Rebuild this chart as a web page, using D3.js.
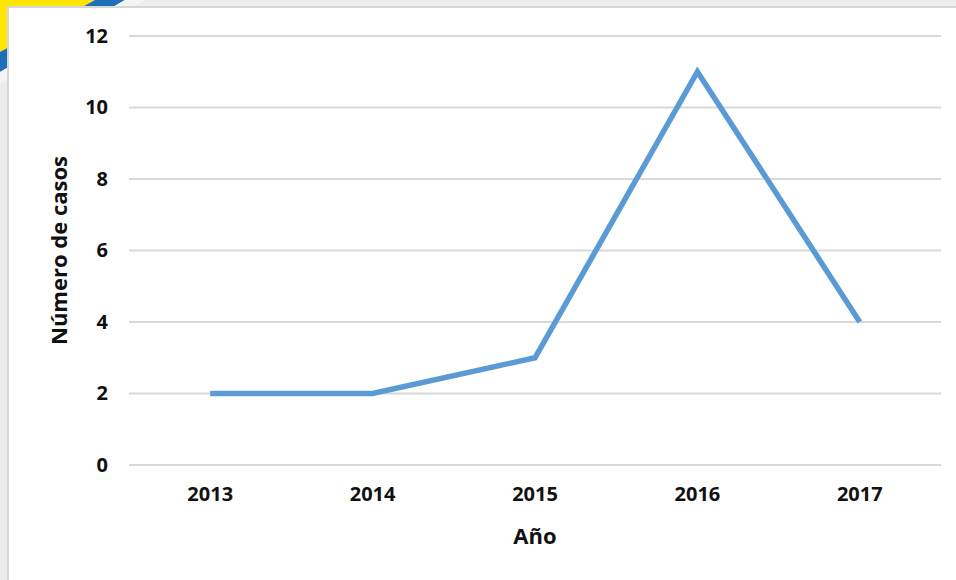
<!DOCTYPE html>
<html><head><meta charset="utf-8">
<script src="https://cdn.jsdelivr.net/npm/d3@7"></script>
<style>html,body{margin:0;padding:0;background:#f2f2f2;}svg{display:block;}</style>
</head><body>
<script>
const years = ["2013","2014","2015","2016","2017"];
const cases = [2, 2, 3, 11, 4];
const yTicks = [0, 2, 4, 6, 8, 10, 12];
const yTitle = "Número de casos";
const xTitle = "Año";

const W = 956, H = 580;
const svg = d3.select("body").append("svg").attr("width", W).attr("height", H);
const font = "'Open Sans', Lato, sans-serif";

// background decoration
svg.append("rect").attr("width", W).attr("height", H).attr("fill", "#ededed");
svg.append("path").attr("d", "M0,0 L95,0 L0,52 Z").attr("fill", "#ffe600");
svg.append("path").attr("d", "M95,0 L125,0 L0,72 L0,52 Z").attr("fill", "#1f6fb8");
svg.append("path").attr("d", "M125,0 L145,0 L0,84 L0,72 Z").attr("fill", "#f4f4f4");
// panel
svg.append("rect").attr("x", 8).attr("y", 7).attr("width", W).attr("height", H)
  .attr("fill", "#ffffff").attr("stroke", "#d6d6d6").attr("stroke-width", 2);

const m = {l: 129, r: 941, t: 36, b: 465};
const x = d3.scaleBand().domain(years).range([m.l, m.r]);
const y = d3.scaleLinear().domain([0, 12]).range([m.b, m.t]);

// gridlines
svg.append("g").selectAll("line").data(yTicks).join("line")
  .attr("x1", m.l).attr("x2", m.r)
  .attr("y1", d => y(d)).attr("y2", d => y(d))
  .attr("stroke", "#d9d9d9").attr("stroke-width", 2);

// y axis labels
const ya = svg.append("g").attr("transform", `translate(${m.l},0)`)
  .call(d3.axisLeft(y).tickValues(yTicks).tickSize(0).tickPadding(21));
ya.select(".domain").remove();
ya.selectAll("text").attr("font-family", font).attr("font-weight", "bold")
  .attr("font-size", 20).attr("fill", "#111");

// x axis labels
const xa = svg.append("g").attr("transform", `translate(0,${m.b})`)
  .call(d3.axisBottom(x).tickSize(0).tickPadding(22));
xa.select(".domain").remove();
xa.selectAll("text").attr("font-family", font).attr("font-weight", "bold")
  .attr("font-size", 20).attr("fill", "#111");

// line
const line = d3.line().x((d, i) => x(years[i]) + x.bandwidth() / 2).y(d => y(d));
svg.append("path").datum(cases).attr("d", line)
  .attr("fill", "none").attr("stroke", "#5b9bd5").attr("stroke-width", 5.5)
  .attr("stroke-linejoin", "miter").attr("stroke-linecap", "butt");

// titles
svg.append("text").attr("x", (m.l + m.r) / 2).attr("y", 544).attr("text-anchor", "middle")
  .attr("font-family", font).attr("font-weight", "bold").attr("font-size", 22)
  .attr("fill", "#111").text(xTitle);
svg.append("text").attr("transform", `translate(67,${(m.t + m.b) / 2}) rotate(-90)`)
  .attr("text-anchor", "middle")
  .attr("font-family", font).attr("font-weight", "bold").attr("font-size", 22)
  .attr("fill", "#111").text(yTitle);
</script>
</body></html>
